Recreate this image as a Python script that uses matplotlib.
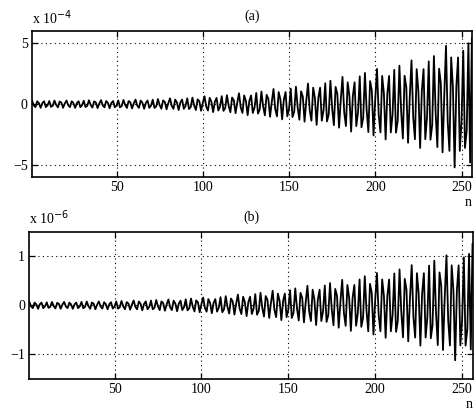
import numpy as np
import matplotlib
matplotlib.use("Agg")
import matplotlib.pyplot as plt

plt.rcParams['font.family'] = ['Liberation Serif', 'DejaVu Serif']

# (a) samples, in units of 1e-4
sig_a = [
    0.30, -0.09, -0.24, 0.24, 0.09, -0.30, 0.09, 0.24, -0.24, -0.09,
    0.26, -0.22, -0.13, 0.30, -0.05, -0.26, 0.22, 0.13, -0.30, 0.05,
    0.30, -0.09, -0.24, 0.24, 0.09, -0.30, 0.09, 0.24, -0.24, -0.09,
    0.28, -0.23, -0.14, 0.32, -0.06, -0.28, 0.23, 0.14, -0.32, 0.06,
    0.33, -0.10, -0.26, 0.26, 0.10, -0.33, 0.10, 0.26, -0.26, -0.10,
    0.31, -0.26, -0.15, 0.35, -0.06, -0.31, 0.26, 0.15, -0.35, 0.06,
    0.38, -0.11, -0.30, 0.30, 0.11, -0.38, 0.11, 0.30, -0.30, -0.11,
    0.37, -0.31, -0.18, 0.42, -0.08, -0.37, 0.31, 0.18, -0.42, 0.08,
    0.48, -0.14, -0.38, 0.38, 0.14, -0.48, 0.14, 0.38, -0.38, -0.14,
    0.48, -0.40, -0.24, 0.54, -0.10, -0.48, 0.40, 0.24, -0.54, 0.10,
    0.65, -0.20, -0.52, 0.52, 0.20, -0.65, 0.20, 0.52, -0.52, -0.20,
    0.66, -0.55, -0.32, 0.74, -0.14, -0.66, 0.55, 0.32, -0.74, 0.14,
    0.90, -0.27, -0.72, 0.72, 0.27, -0.90, 0.27, 0.72, -0.72, -0.27,
    0.92, -0.77, -0.45, 1.04, -0.19, -0.92, 0.77, 0.45, -1.04, 0.19,
    1.25, -0.38, -1.00, 1.00, 0.38, -1.25, 0.38, 1.00, -1.00, -0.38,
    1.28, -1.06, -0.62, 1.44, -0.26, -1.28, 1.06, 0.62, -1.44, 0.26,
    1.70, -0.51, -1.36, 1.36, 0.51, -1.70, 0.51, 1.36, -1.36, -0.51,
    1.72, -1.42, -0.84, 1.93, -0.35, -1.72, 1.42, 0.84, -1.93, 0.35,
    2.25, -0.68, -1.80, 1.80, 0.68, -2.25, 0.68, 1.80, -1.80, -0.68,
    2.29, -1.90, -1.12, 2.57, -0.47, -2.29, 1.90, 1.12, -2.57, 0.47,
    2.90, -0.87, -2.32, 2.32, 0.87, -2.90, 0.87, 2.32, -2.32, -0.87,
    2.82, -2.34, -1.38, 3.17, -0.58, -2.82, 2.34, 1.38, -3.17, 0.58,
    3.60, -1.08, -2.88, 2.88, 1.08, -3.60, 1.08, 2.88, -2.88, -1.08,
    3.52, -2.92, -1.72, 3.96, -0.72, -3.52, 2.92, 1.72, -3.96, 0.72,
    4.80, -1.44, -3.84, 3.84, 1.44, -5.20, 1.44, 3.84, -3.84, -1.44,
    4.40, -3.60, -2.20, 5.00, -4.80, 5.40,
]

# (b) samples, in units of 1e-6
sig_b = [
    0.070, -0.021, -0.056, 0.056, 0.021, -0.070, 0.021, 0.056, -0.056, -0.021,
    0.062, -0.051, -0.030, 0.069, -0.013, -0.062, 0.051, 0.030, -0.069, 0.013,
    0.070, -0.021, -0.056, 0.056, 0.021, -0.070, 0.021, 0.056, -0.056, -0.021,
    0.070, -0.058, -0.034, 0.079, -0.014, -0.070, 0.058, 0.034, -0.079, 0.014,
    0.080, -0.024, -0.064, 0.064, 0.024, -0.080, 0.024, 0.064, -0.064, -0.024,
    0.079, -0.066, -0.039, 0.089, -0.016, -0.079, 0.066, 0.039, -0.089, 0.016,
    0.100, -0.030, -0.080, 0.080, 0.030, -0.100, 0.030, 0.080, -0.080, -0.030,
    0.097, -0.080, -0.047, 0.109, -0.020, -0.097, 0.080, 0.047, -0.109, 0.020,
    0.120, -0.036, -0.096, 0.096, 0.036, -0.120, 0.036, 0.096, -0.096, -0.036,
    0.123, -0.102, -0.060, 0.139, -0.025, -0.123, 0.102, 0.060, -0.139, 0.025,
    0.160, -0.048, -0.128, 0.128, 0.048, -0.160, 0.048, 0.128, -0.128, -0.048,
    0.167, -0.139, -0.082, 0.188, -0.034, -0.167, 0.139, 0.082, -0.188, 0.034,
    0.220, -0.066, -0.176, 0.176, 0.066, -0.220, 0.066, 0.176, -0.176, -0.066,
    0.229, -0.190, -0.112, 0.257, -0.047, -0.229, 0.190, 0.112, -0.257, 0.047,
    0.300, -0.090, -0.240, 0.240, 0.090, -0.300, 0.090, 0.240, -0.240, -0.090,
    0.308, -0.256, -0.151, 0.347, -0.063, -0.308, 0.256, 0.151, -0.347, 0.063,
    0.400, -0.120, -0.320, 0.320, 0.120, -0.400, 0.120, 0.320, -0.320, -0.120,
    0.405, -0.336, -0.198, 0.455, -0.083, -0.405, 0.336, 0.198, -0.455, 0.083,
    0.520, -0.156, -0.416, 0.416, 0.156, -0.520, 0.156, 0.416, -0.416, -0.156,
    0.528, -0.438, -0.258, 0.594, -0.108, -0.528, 0.438, 0.258, -0.594, 0.108,
    0.660, -0.198, -0.528, 0.528, 0.198, -0.660, 0.198, 0.528, -0.528, -0.198,
    0.651, -0.540, -0.318, 0.733, -0.133, -0.651, 0.540, 0.318, -0.733, 0.133,
    0.820, -0.246, -0.656, 0.656, 0.246, -0.820, 0.246, 0.656, -0.656, -0.246,
    0.810, -0.672, -0.396, 0.911, -0.166, -0.810, 0.672, 0.396, -0.911, 0.166,
    1.020, -0.306, -0.816, 0.816, 0.306, -1.120, 0.306, 0.816, -0.816, -0.306,
    0.980, -0.820, -0.480, 1.050, -0.900, 1.250,
]

n = np.arange(1, len(sig_a) + 1)
xticks = [50, 100, 150, 200, 250]

panels = [
    # (data, position, ylim, yticks, title, exponent)
    (sig_a, [0.0674, 0.569, 0.926, 0.355], 6, [-5, 0, 5], '(a)', '-4'),
    (sig_b, [0.0618, 0.078, 0.933, 0.358], 1.5, [-1, 0, 1], '(b)', '-6'),
]

fig = plt.figure(figsize=(4.75, 4.11), dpi=100)

for data, pos, lim, yt, title, ex in panels:
    ax = fig.add_axes(pos)
    ax.plot(n, data, color='black', lw=1.3)
    ax.set_xlim(1, 256)
    ax.set_ylim(-lim, lim)
    ax.set_xticks(xticks)
    ax.set_yticks(yt)
    ax.grid(True, color='black', linestyle=(0, (1, 3)), linewidth=0.8)
    ax.tick_params(direction='in', top=True, right=True, length=4,
                   labelsize=10, pad=3, width=0.9)
    for s in ax.spines.values():
        s.set_linewidth(1.2)
    ax.set_title(title, fontsize=10, pad=8)
    ax.text(0.0, 1.03, 'x 10$^{' + ex + '}$', transform=ax.transAxes,
            fontsize=10, ha='left', va='bottom')
    ax.text(1.0, -0.13, 'n', transform=ax.transAxes, fontsize=10,
            ha='right', va='top')

fig.savefig('out.png', dpi=100)
